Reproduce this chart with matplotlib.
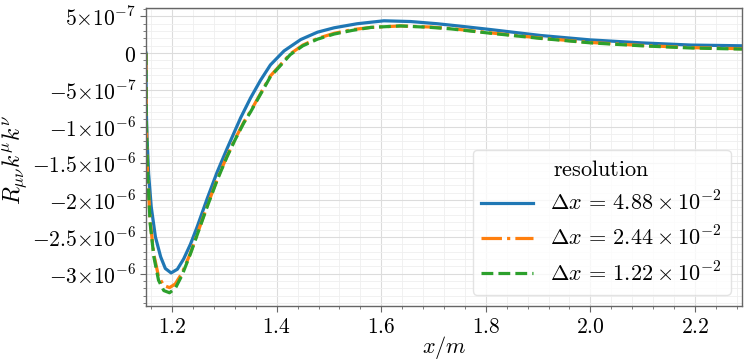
import matplotlib
matplotlib.use("Agg")
import matplotlib.pyplot as plt
from matplotlib.ticker import AutoMinorLocator, FixedLocator, FixedFormatter

plt.rcParams['mathtext.fontset'] = 'cm'
plt.rcParams['font.family'] = ['DejaVu Serif']

# x positions (m) and R k k values
x_blue = [1.150, 1.1502, 1.1507, 1.152, 1.155, 1.160, 1.168, 1.178, 1.187, 1.198, 1.210,
          1.222, 1.235, 1.248, 1.267, 1.286, 1.305, 1.318, 1.331, 1.350, 1.369, 1.388,
          1.414, 1.446, 1.478, 1.510, 1.554, 1.605, 1.656, 1.707, 1.760, 1.810, 1.905,
          2.000, 2.097, 2.192, 2.290]
y_blue = [0.0, -0.40e-6, -0.80e-6, -1.16e-6, -1.64e-6, -2.09e-6, -2.50e-6, -2.77e-6,
          -2.93e-6, -2.99e-6, -2.94e-6, -2.80e-6, -2.60e-6, -2.36e-6, -1.98e-6, -1.62e-6,
          -1.30e-6, -1.09e-6, -0.88e-6, -0.61e-6, -0.37e-6, -0.16e-6, 0.03e-6, 0.185e-6,
          0.285e-6, 0.345e-6, 0.40e-6, 0.44e-6, 0.43e-6, 0.40e-6, 0.36e-6, 0.32e-6, 0.24e-6,
          0.18e-6, 0.14e-6, 0.11e-6, 0.10e-6]

x_green = [1.150, 1.1502, 1.1507, 1.153, 1.158, 1.165, 1.174, 1.184, 1.195, 1.206, 1.219,
           1.235, 1.251, 1.267, 1.286, 1.305, 1.321, 1.337, 1.350, 1.369, 1.388, 1.407,
           1.426, 1.450, 1.478, 1.510, 1.545, 1.580, 1.637, 1.695, 1.733, 1.810, 1.905,
           2.000, 2.097, 2.192, 2.290]
y_green = [0.0, -0.45e-6, -0.95e-6, -1.64e-6, -2.32e-6, -2.77e-6, -3.09e-6, -3.23e-6,
           -3.26e-6, -3.20e-6, -3.02e-6, -2.73e-6, -2.41e-6, -2.09e-6, -1.73e-6, -1.41e-6,
           -1.17e-6, -0.95e-6, -0.80e-6, -0.56e-6, -0.32e-6, -0.17e-6, -0.02e-6, 0.10e-6,
           0.19e-6, 0.26e-6, 0.31e-6, 0.35e-6, 0.37e-6, 0.35e-6, 0.33e-6, 0.27e-6, 0.20e-6,
           0.14e-6, 0.10e-6, 0.07e-6, 0.055e-6]

x_orange = x_green
y_orange = [0.0, -0.45e-6, -0.95e-6, -1.62e-6, -2.29e-6, -2.74e-6, -3.04e-6, -3.16e-6,
            -3.19e-6, -3.14e-6, -2.99e-6, -2.72e-6, -2.40e-6, -2.08e-6, -1.72e-6, -1.40e-6,
            -1.16e-6, -0.94e-6, -0.79e-6, -0.55e-6, -0.31e-6, -0.16e-6, -0.01e-6, 0.11e-6,
            0.20e-6, 0.27e-6, 0.32e-6, 0.35e-6, 0.37e-6, 0.355e-6, 0.335e-6, 0.275e-6,
            0.205e-6, 0.145e-6, 0.105e-6, 0.075e-6, 0.06e-6]

labels = [r"$\Delta x\,=\,4.88\times10^{-2}$",
          r"$\Delta x\,=\,2.44\times10^{-2}$",
          r"$\Delta x\,=\,1.22\times10^{-2}$"]

yticks = [5e-7, 0, -5e-7, -1e-6, -1.5e-6, -2e-6, -2.5e-6, -3e-6]
ytick_labels = [r"$5{\times}10^{-7}$", r"$0$", r"$-5{\times}10^{-7}$", r"$-1{\times}10^{-6}$",
                r"$-1.5{\times}10^{-6}$", r"$-2{\times}10^{-6}$", r"$-2.5{\times}10^{-6}$",
                r"$-3{\times}10^{-6}$"]
xticks = [1.2, 1.4, 1.6, 1.8, 2.0, 2.2]
xtick_labels = [r"$1.2$", r"$1.4$", r"$1.6$", r"$1.8$", r"$2.0$", r"$2.2$"]

fig = plt.figure(figsize=(7.48, 3.64), dpi=100)
ax = fig.add_axes([146/748, 1-306/364, (742-146)/748, (306-8)/364])

ax.plot(x_blue, y_blue, color='#1f77b4', lw=2.3, ls='-', label=labels[0])
ax.plot(x_orange, y_orange, color='#ff7f0e', lw=2.3, ls='-.', label=labels[1])
ax.plot(x_green, y_green, color='#2ca02c', lw=2.3, ls='--', label=labels[2])

ax.set_xlim(1.15, 2.29)
ax.set_ylim(-3.44e-6, 6.14e-7)

ax.xaxis.set_major_locator(FixedLocator(xticks))
ax.xaxis.set_major_formatter(FixedFormatter(xtick_labels))
ax.yaxis.set_major_locator(FixedLocator(yticks))
ax.yaxis.set_major_formatter(FixedFormatter(ytick_labels))
ax.xaxis.set_minor_locator(AutoMinorLocator(5))
ax.yaxis.set_minor_locator(AutoMinorLocator(5))

ax.grid(True, which='major', color='#dcdcdc', lw=0.8)
ax.grid(True, which='minor', color='#efefef', lw=0.6)
ax.set_axisbelow(True)

for s in ax.spines.values():
    s.set_color('#666666')
    s.set_linewidth(1.0)
ax.tick_params(which='major', length=4, width=0.8, color='#666666', labelsize=15.5, pad=3)
ax.tick_params(which='minor', length=2, width=0.6, color='#666666')

ax.set_xlabel(r"$x/m$", fontsize=16)
ax.xaxis.set_label_coords(0.5, -0.095)
ax.set_ylabel(r"$R_{\mu\nu}k^{\mu}k^{\nu}$", fontsize=17)
ax.yaxis.set_label_coords(-0.197, 0.49)

leg = ax.legend(title=r"$\mathrm{resolution}$", loc='lower right', fontsize=16,
                title_fontsize=16, handlelength=2.3, framealpha=0.8, fancybox=True)
leg.get_frame().set_edgecolor('#dddddd')

fig.savefig("out.png", dpi=100)
